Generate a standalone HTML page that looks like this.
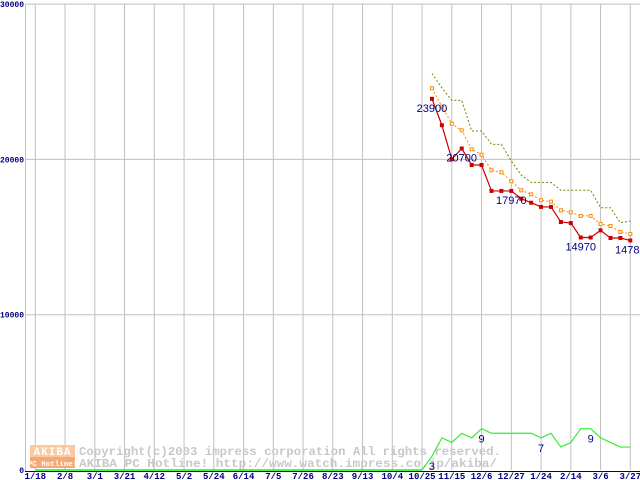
<!DOCTYPE html>
<html><head><meta charset="utf-8"><style>
html,body{margin:0;padding:0;background:#fff;width:640px;height:480px;overflow:hidden}
svg{display:block}
text{font-family:"Liberation Mono","DejaVu Sans Mono",monospace}
</style></head><body>
<svg id="chart" width="640" height="480" viewBox="0 0 640 480" xmlns="http://www.w3.org/2000/svg">
<g id="grid"></g>
<g id="wm">
  <rect x="30" y="445" width="45" height="12" fill="#fbc9a0"/>
  <rect x="30" y="457" width="45" height="11" fill="#f4a878"/>
  <text x="52.5" y="455" font-size="11" font-weight="bold" fill="#fff" text-anchor="middle" letter-spacing="1">AKIBA</text>
  <text x="52.5" y="466" font-size="7.5" font-weight="bold" fill="#fff" text-anchor="middle">PC Hotline!</text>
  <text x="79" y="455" font-size="11.5" font-weight="bold" fill="#c8c8c8" textLength="422" lengthAdjust="spacingAndGlyphs">Copyright(c)2003 impress corporation All rights reserved.</text>
  <text x="79" y="467" font-size="11.5" font-weight="bold" fill="#c8c8c8" textLength="418" lengthAdjust="spacingAndGlyphs">AKIBA PC Hotline!  http://www.watch.impress.co.jp/akiba/</text>
</g>
<g id="axes"></g>
<g id="series"></g>
</svg>
<script>
const xLabels=["1/18","2/8","3/1","3/21","4/12","5/2","5/24","6/14","7/5","7/26","8/23","9/13","10/4","10/25","11/15","12/6","12/27","1/24","2/14","3/6","3/27"];
const yTicks=[0,10000,20000,30000];
const weeks=[40,41,42,43,44,45,46,47,48,49,50,51,52,53,54,55,56,57,58,59,60];
const minPrice=[23900,22200,20010,20700,19640,19640,17970,17970,17970,17470,17210,16940,16940,15970,15900,14970,14970,15430,14940,14940,14780];
const avgPrice=[24580,23400,22300,21870,20650,20300,19300,19170,18590,18010,17750,17370,17280,16720,16590,16360,16360,15840,15710,15330,15200];
const maxPrice=[25540,24600,23800,23800,21830,21830,20970,20970,19900,18990,18520,18520,18520,18010,18010,18010,18010,16890,16890,15920,16030];
const shopCount=[3,7,6,8,7,9,8,8,8,8,8,7,8,5,6,9,9,7,6,5,5];
const priceLabels=[[0,"23900"],[3,"20700"],[8,"17970"],[15,"14970"],[20,"14780"]];
const countLabels=[[0,"3"],[5,"9"],[11,"7"],[16,"9"]];
const NS="http://www.w3.org/2000/svg";
function X(w){return 35.3+w*9.917;}
function Y(v){return 470-v*0.01553;}
function C(n){return 470-n*4.59;}
function mk(p,t,a){const e=document.createElementNS(NS,t);for(const k in a)e.setAttribute(k,a[k]);p.appendChild(e);return e;}
const grid=document.getElementById('grid'),axes=document.getElementById('axes'),ser=document.getElementById('series');
xLabels.forEach((l,i)=>{
  const x=X(i*3);
  const ln=mk(grid,'line',{x1:x,y1:4,x2:x,y2:470,stroke:'#c0c0c0','stroke-width':1});
  
  
  const t=mk(axes,'text',{x:x,y:479,'font-size':9,'font-weight':'bold',fill:'#000080','text-anchor':'middle'});
  t.textContent=l;
  
  
});
yTicks.forEach(v=>{
  const y=Y(v);
  if(v>0){const ln=mk(grid,'line',{x1:25,y1:y,x2:640,y2:y,stroke:'#c0c0c0','stroke-width':1});
  
  }
  const t=mk(axes,'text',{x:24,y:y+3,'font-size':8,'font-weight':'bold',fill:'#000080','text-anchor':'end'});
  t.textContent=String(v);
  
  
});
const yax=mk(axes,'line',{x1:25.5,y1:4,x2:25.5,y2:471,stroke:'#c0c0c0'});


const xax=mk(axes,'line',{x1:25,y1:471.5,x2:640,y2:471.5,stroke:'#000080'});


function pts(arr,f){return arr.map((v,i)=>X(weeks[i])+','+f(v)).join(' ');}
const zero=mk(ser,'polyline',{points:X(0)+','+C(0)+' '+X(39)+','+C(0),fill:'none',stroke:'#00ff00','stroke-width':1.5});


const gl=mk(ser,'polyline',{points:X(39)+','+C(0)+' '+pts(shopCount,C),fill:'none',stroke:'#33ee33','stroke-width':1.2});


const ol=mk(ser,'polyline',{points:pts(maxPrice,Y),fill:'none',stroke:'#808000','stroke-width':1,'stroke-dasharray':'2,2'});


const al=mk(ser,'polyline',{points:pts(avgPrice,Y),fill:'none',stroke:'#ff8c00','stroke-width':1,'stroke-dasharray':'2,2'});


avgPrice.forEach((v,i)=>{const r=mk(ser,'rect',{x:X(weeks[i])-1.5,y:Y(v)-1.5,width:3,height:3,fill:'#fff',stroke:'#ff8c00','stroke-width':1});
  
  });
const rl=mk(ser,'polyline',{points:pts(minPrice,Y),fill:'none',stroke:'#cc0000','stroke-width':1.2});


minPrice.forEach((v,i)=>{const r=mk(ser,'rect',{x:X(weeks[i])-2,y:Y(v)-2,width:4,height:4,fill:'#cc0000'});
  
  });
priceLabels.forEach(([i,l])=>{const t=mk(ser,'text',{x:X(weeks[i]),y:Y(minPrice[i])+13,'font-size':11,fill:'#000080','text-anchor':'middle',style:'font-family:"Liberation Sans",sans-serif'});
  t.textContent=l;
  
  });
countLabels.forEach(([i,l])=>{const t=mk(ser,'text',{x:X(weeks[i]),y:C(shopCount[i])+14,'font-size':11,fill:'#000080','text-anchor':'middle',style:'font-family:"Liberation Sans",sans-serif'});
  t.textContent=l;
  
  });
</script>
</body></html>
